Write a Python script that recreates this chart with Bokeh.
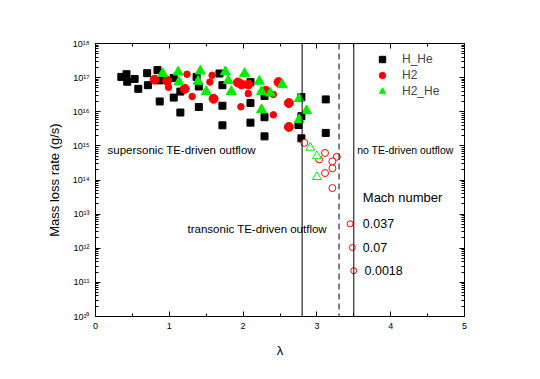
from bokeh.plotting import figure
from bokeh.models import (Span, Label, Legend, LegendItem, LinearAxis, LogAxis,
                          FixedTicker, CustomJSTickFormatter)
from bokeh.embed import file_html
from bokeh.resources import INLINE

FONT = "Liberation Sans"

# ---- data ----
hhe_x = [0.35, 0.42, 0.43, 0.53, 0.58, 0.70, 0.71, 0.84, 0.87, 0.87, 1.06, 1.06, 1.15, 1.15,
         1.37, 1.40, 1.40, 1.68, 1.72, 1.72, 1.72, 2.10, 2.10, 2.10, 2.29, 2.29, 2.29,
         2.79, 2.79, 2.75, 2.79, 3.12, 3.12]
hhe_y = [1.05e17, 1.26e17, 7.6e16, 9.1e16, 4.7e16, 1.35e17, 6.0e16, 1.66e17, 8.3e16, 2.0e16,
         9.8e16, 2.6e16, 9.5e15, 3.9e16, 1.05e17, 5.5e16, 1.38e16, 1.32e17, 6.0e16, 1.5e16,
         4.0e15, 7.4e16, 1.8e16, 4.8e15, 2.9e16, 6.9e15, 1.9e15, 2.7e16, 7.4e15, 4.1e15,
         1.66e15, 2.3e16, 2.4e15]

h2_small_x = [0.99, 1.24, 1.31, 1.55, 1.58, 2.07, 1.97, 2.41, 2.41]
h2_small_y = [5.2e16, 1.26e17, 2.8e16, 7.4e16, 1.17e17, 3.4e16, 1.4e16, 3.2e16, 8.1e15]
h2_large_x = [0.80, 0.97, 1.21, 1.60, 1.93, 1.98, 2.07, 2.48, 2.31, 2.62, 2.62]
h2_large_y = [8.7e16, 8.1e16, 4.7e16, 2.4e16, 7.2e16, 6.3e16, 6.3e16, 7.4e16, 4.1e16, 1.8e16, 3.6e15]

h2he_x = [0.91, 1.12, 1.13, 1.42, 1.39, 1.50, 1.76, 1.80, 1.84, 2.02, 2.22, 2.25, 2.37, 2.53,
          2.25, 2.76, 2.86, 2.76]
h2he_y = [1.32e17, 1.45e17, 7.4e16, 1.55e17, 7.8e16, 3.9e16, 1.48e17, 8.1e16, 3.9e16, 1.32e17,
          7.8e16, 3.9e16, 3.5e16, 6.2e16, 1.15e16, 2.4e16, 1.07e16, 5.9e15]

h2_open_x = [2.83, 3.11, 3.03, 3.27, 3.21, 3.21, 3.11, 3.21]
h2_open_y = [1.23e15, 6.2e14, 4.0e14, 4.8e14, 3.5e14, 2.2e14, 1.6e14, 5.8e13]
h2he_open_x = [2.91, 3.00, 3.00]
h2he_open_y = [8.9e14, 5.0e14, 1.23e14]

mach_x = [3.45, 3.48, 3.50]
mach_y = [5.2e12, 1.05e12, 2.2e11]
mach_labels = ["0.037", "0.07", "0.0018"]

boundaries_solid = [2.8, 3.5]
boundary_dashed = [3.3]

x_ticks = [0, 1, 2, 3, 4, 5]
x_minor = [0.5, 1.5, 2.5, 3.5, 4.5]
y_ticks = [10.0 ** k for k in range(10, 19)]
y_minor = [m * 10.0 ** k for k in range(10, 18) for m in range(2, 10)]

# ---- figure ----
p = figure(width=524, height=363, x_range=(0, 5), y_range=(1e10, 1e18),
           y_axis_type="log", output_backend="svg", toolbar_location=None,
           min_border_left=95, min_border_right=60, min_border_top=43, min_border_bottom=47)
p.grid.visible = False
p.outline_line_color = "black"
p.outline_line_width = 1
p.background_fill_color = "white"
p.border_fill_color = "white"

sup = "{'0':'\u2070','1':'\u00b9','2':'\u00b2','3':'\u00b3','4':'\u2074','5':'\u2075','6':'\u2076','7':'\u2077','8':'\u2078','9':'\u2079'}"
yfmt = CustomJSTickFormatter(code="const s = " + sup + "; const e = Math.round(Math.log10(tick));"
                             " return '10' + String(e).split('').map(c => s[c]).join('');")
blank = CustomJSTickFormatter(code="return '';")

def style_axis(ax):
    ax.axis_line_color = "black"
    ax.major_tick_in = 5
    ax.major_tick_out = 0
    ax.minor_tick_in = 3
    ax.minor_tick_out = 0
    ax.major_tick_line_color = "black"
    ax.minor_tick_line_color = "black"
    ax.major_label_text_font = FONT
    ax.major_label_text_color = "black"
    ax.major_label_text_font_size = "9px"
    ax.axis_label_text_font = FONT
    ax.axis_label_text_font_style = "normal"
    ax.axis_label_text_color = "black"

xaxis = p.xaxis[0]
xaxis.ticker = FixedTicker(ticks=x_ticks, minor_ticks=x_minor)
style_axis(xaxis)
xaxis.axis_label = "\u03bb"
xaxis.axis_label_text_font_size = "13px"
xaxis.major_label_standoff = 6
xaxis.axis_label_standoff = 11

yaxis = p.yaxis[0]
yaxis.ticker = FixedTicker(ticks=y_ticks, minor_ticks=y_minor)
yaxis.formatter = yfmt
style_axis(yaxis)
yaxis.axis_label = "Mass loss rate (g/s)"
yaxis.axis_label_text_font_size = "13px"
yaxis.major_label_standoff = 6
yaxis.axis_label_standoff = 8

top = LinearAxis(ticker=FixedTicker(ticks=x_ticks, minor_ticks=x_minor), formatter=blank)
style_axis(top)
p.add_layout(top, "above")
right = LogAxis(ticker=FixedTicker(ticks=y_ticks, minor_ticks=y_minor), formatter=blank)
style_axis(right)
p.add_layout(right, "right")

# boundaries
for xb in boundaries_solid:
    p.add_layout(Span(location=xb, dimension="height", line_color="black", line_width=1))
for xb in boundary_dashed:
    p.add_layout(Span(location=xb, dimension="height", line_color="black", line_width=1,
                      line_dash="6 4"))

# data markers
r_hhe = p.scatter(hhe_x, hhe_y, marker="square", size=7, color="black")
r_h2s = p.scatter(h2_small_x, h2_small_y, marker="circle", size=6.5, color="#ff0000")
r_h2l = p.scatter(h2_large_x, h2_large_y, marker="circle", size=9, color="#ff0000")
r_h2he = p.scatter(h2he_x, h2he_y, marker="triangle", size=10, color="#00ee00")
p.scatter(h2_open_x, h2_open_y, marker="circle", size=7, fill_color="white",
          line_color="#ff0000", line_width=1)
p.scatter(h2he_open_x, h2he_open_y, marker="triangle", size=9, fill_color="white",
          line_color="#00ee00", line_width=1)
p.scatter(mach_x, mach_y, marker="circle", size=6, fill_color="white",
          line_color="#ff0000", line_width=1)

# annotations
def lab(x, y, t, size):
    p.add_layout(Label(x=x, y=y, text=t, text_font=FONT, text_font_size=size,
                       text_color="black", text_baseline="middle", text_align="left"))

lab(0.163, 7.5e14, "supersonic TE-driven outflow", "11.5px")
lab(1.247, 3.6e12, "transonic TE-driven outflow", "11.5px")
lab(3.546, 7.8e14, "no TE-driven outflow", "10.5px")
lab(3.622, 3.0e13, "Mach number", "13px")
for xm, ym, t in zip([3.622, 3.622, 3.645], mach_y, mach_labels):
    lab(xm, ym, t, "12.5px")

legend = Legend(items=[LegendItem(label="H_He", renderers=[r_hhe]),
                       LegendItem(label="H2", renderers=[r_h2s]),
                       LegendItem(label="H2_He", renderers=[r_h2he])],
                location=(277, 217), padding=0, spacing=0, margin=0,
                glyph_width=20, glyph_height=16, label_height=16, label_standoff=10,
                label_text_font=FONT, label_text_font_size="12px",
                border_line_color=None, background_fill_alpha=0)
p.add_layout(legend)

open("out.html", "w").write(file_html(p, INLINE))
